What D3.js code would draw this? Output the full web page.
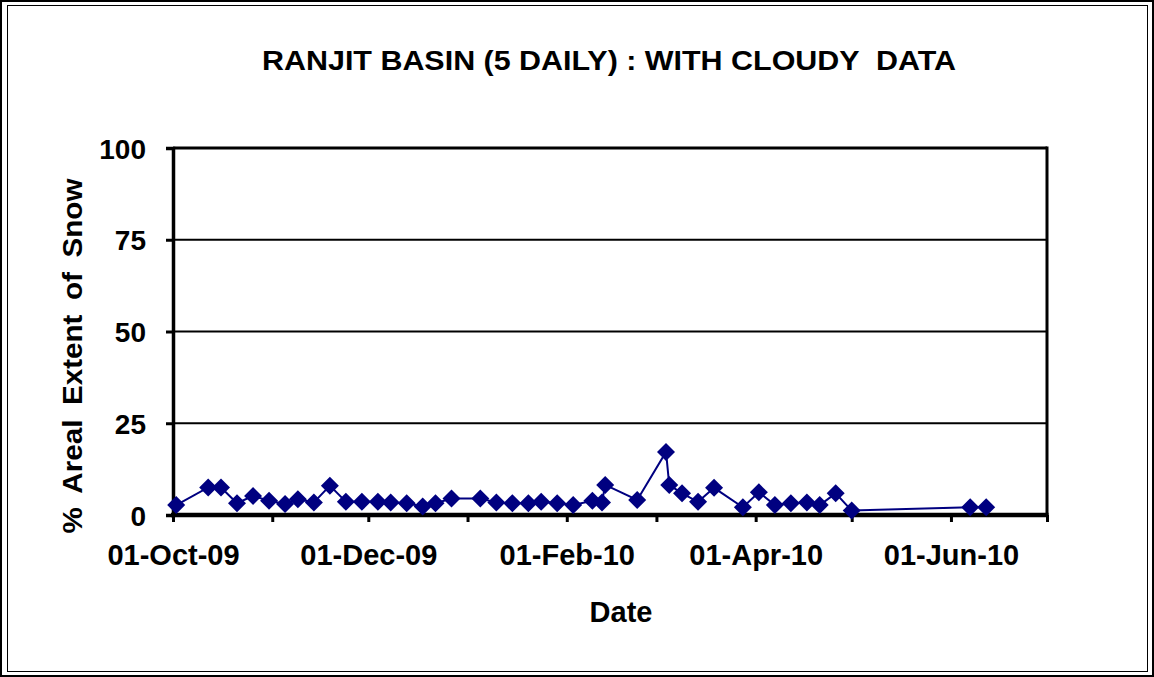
<!DOCTYPE html>
<html>
<head>
<meta charset="utf-8">
<script src="https://cdn.jsdelivr.net/npm/d3@7/dist/d3.min.js"></script>
<style>
  html, body { margin: 0; padding: 0; background: #fff; }
  svg { display: block; }
  text { font-family: "Liberation Sans", Arial, sans-serif; font-weight: bold; fill: #000; }
</style>
</head>
<body>
<svg id="chart" width="1154" height="677"></svg>
<script>
// 5-daily snow cover observations, Ranjit basin, Oct 2009 - Jun 2010
const dates = [
  "2009-10-02", "2009-10-12", "2009-10-16", "2009-10-21", "2009-10-26",
  "2009-10-31", "2009-11-05", "2009-11-09", "2009-11-14", "2009-11-19",
  "2009-11-24", "2009-11-29", "2009-12-04", "2009-12-08", "2009-12-13",
  "2009-12-18", "2009-12-22", "2009-12-27", "2010-01-05", "2010-01-10",
  "2010-01-15", "2010-01-20", "2010-01-24", "2010-01-29", "2010-02-03",
  "2010-02-09", "2010-02-12", "2010-02-13", "2010-02-23", "2010-03-04",
  "2010-03-05", "2010-03-09", "2010-03-14", "2010-03-19", "2010-03-28",
  "2010-04-02", "2010-04-07", "2010-04-12", "2010-04-17", "2010-04-21",
  "2010-04-26", "2010-05-01", "2010-06-07", "2010-06-12"
];
const snowCover = [
  2.7, 7.5, 7.5, 3.2, 5.2,
  3.9, 3.0, 4.3, 3.4, 8.0,
  3.6, 3.6, 3.6, 3.4, 3.2,
  2.3, 3.2, 4.5, 4.5, 3.4,
  3.2, 3.2, 3.6, 3.2, 2.7,
  3.9, 3.4, 8.2, 4.1, 17.2,
  8.2, 5.9, 3.6, 7.4, 2.1,
  6.2, 2.7, 3.2, 3.4, 2.7,
  5.9, 1.2, 2.1, 2.1
];
const yTicks = [0, 25, 50, 75, 100];
const xLabelDates = ["2009-10-01", "2009-12-01", "2010-02-01", "2010-04-01", "2010-06-01"];
const xDomain = ["2009-10-01", "2010-07-01"];

const parse = d3.utcParse("%Y-%m-%d");
const fmt = d3.utcFormat("%d-%b-%y");
const points = dates.map((d, i) => ({ date: parse(d), value: snowCover[i] }));

const svg = d3.select("#chart");
const W = 1154, H = 677;
const plot = { left: 173, right: 1047, top: 148, bottom: 515 };

// outer frame
svg.append("rect").attr("x", 1).attr("y", 1).attr("width", W - 2).attr("height", H - 2)
  .attr("fill", "none").attr("stroke", "#000").attr("stroke-width", 2);
svg.append("rect").attr("x", 7.5).attr("y", 5.5).attr("width", W - 14).attr("height", H - 11)
  .attr("fill", "none").attr("stroke", "#000").attr("stroke-width", 1);

const x = d3.scaleUtc().domain(xDomain.map(parse)).range([plot.left, plot.right]);
const y = d3.scaleLinear().domain([0, 100]).range([plot.bottom, plot.top]);

// title
svg.append("text").attr("x", 609).attr("y", 70).attr("text-anchor", "middle")
  .attr("xml:space", "preserve")
  .attr("textLength", 694).attr("lengthAdjust", "spacingAndGlyphs")
  .style("font-size", "27px").text("RANJIT BASIN (5 DAILY) : WITH CLOUDY  DATA");

// horizontal gridlines
svg.append("g").selectAll("line").data(yTicks.filter(t => t > 0)).join("line")
  .attr("x1", plot.left).attr("x2", plot.right)
  .attr("y1", d => y(d)).attr("y2", d => y(d))
  .attr("stroke", "#000").attr("stroke-width", d => d === 100 ? 3 : 2);

// right border of plot area
svg.append("line").attr("x1", plot.right).attr("x2", plot.right)
  .attr("y1", plot.top - 1.5).attr("y2", plot.bottom)
  .attr("stroke", "#000").attr("stroke-width", 3);

// y axis
const yAxis = d3.axisLeft(y).tickValues(yTicks).tickSize(7).tickPadding(20);
const gy = svg.append("g").attr("transform", `translate(${plot.left},0)`).call(yAxis);
gy.select(".domain").attr("stroke-width", 3.5);
gy.selectAll(".tick line").attr("stroke-width", 3);
gy.selectAll(".tick text").style("font-size", "28px").attr("dy", "0.36em");

// x axis: monthly ticks, labels every second month
const monthTicks = d3.utcMonth.range(parse(xDomain[0]), d3.utcDay.offset(parse(xDomain[1]), 1));
const labelSet = new Set(xLabelDates);
const xAxis = d3.axisBottom(x).tickValues(monthTicks).tickSize(7).tickPadding(22)
  .tickFormat(d => labelSet.has(d3.utcFormat("%Y-%m-%d")(d)) ? fmt(d) : "");
const gx = svg.append("g").attr("transform", `translate(0,${plot.bottom})`).call(xAxis);
gx.select(".domain").attr("stroke-width", 4.5).attr("d", `M${plot.left - 2},0H${plot.right + 1.5}`);
gx.selectAll(".tick line").attr("stroke-width", 3);
gx.selectAll(".tick text").style("font-size", "29px");

// axis titles
svg.append("text").attr("x", 621).attr("y", 622).attr("text-anchor", "middle")
  .style("font-size", "29px").text("Date");
svg.append("text").attr("transform", "translate(82,356) rotate(-90)")
  .attr("text-anchor", "middle")
  .attr("textLength", 355).attr("lengthAdjust", "spacingAndGlyphs")
  .style("font-size", "28px").style("word-spacing", "6px")
  .text("% Areal Extent of Snow");

// series line and diamond markers
const navy = "#000080";
svg.append("path").datum(points)
  .attr("d", d3.line().x(d => x(d.date)).y(d => y(d.value)))
  .attr("fill", "none").attr("stroke", navy).attr("stroke-width", 2);
svg.append("g").selectAll("path").data(points).join("path")
  .attr("transform", d => `translate(${x(d.date)},${y(d.value)})`)
  .attr("d", "M0,-9L9,0L0,9L-9,0Z").attr("fill", navy);
</script>
</body>
</html>
